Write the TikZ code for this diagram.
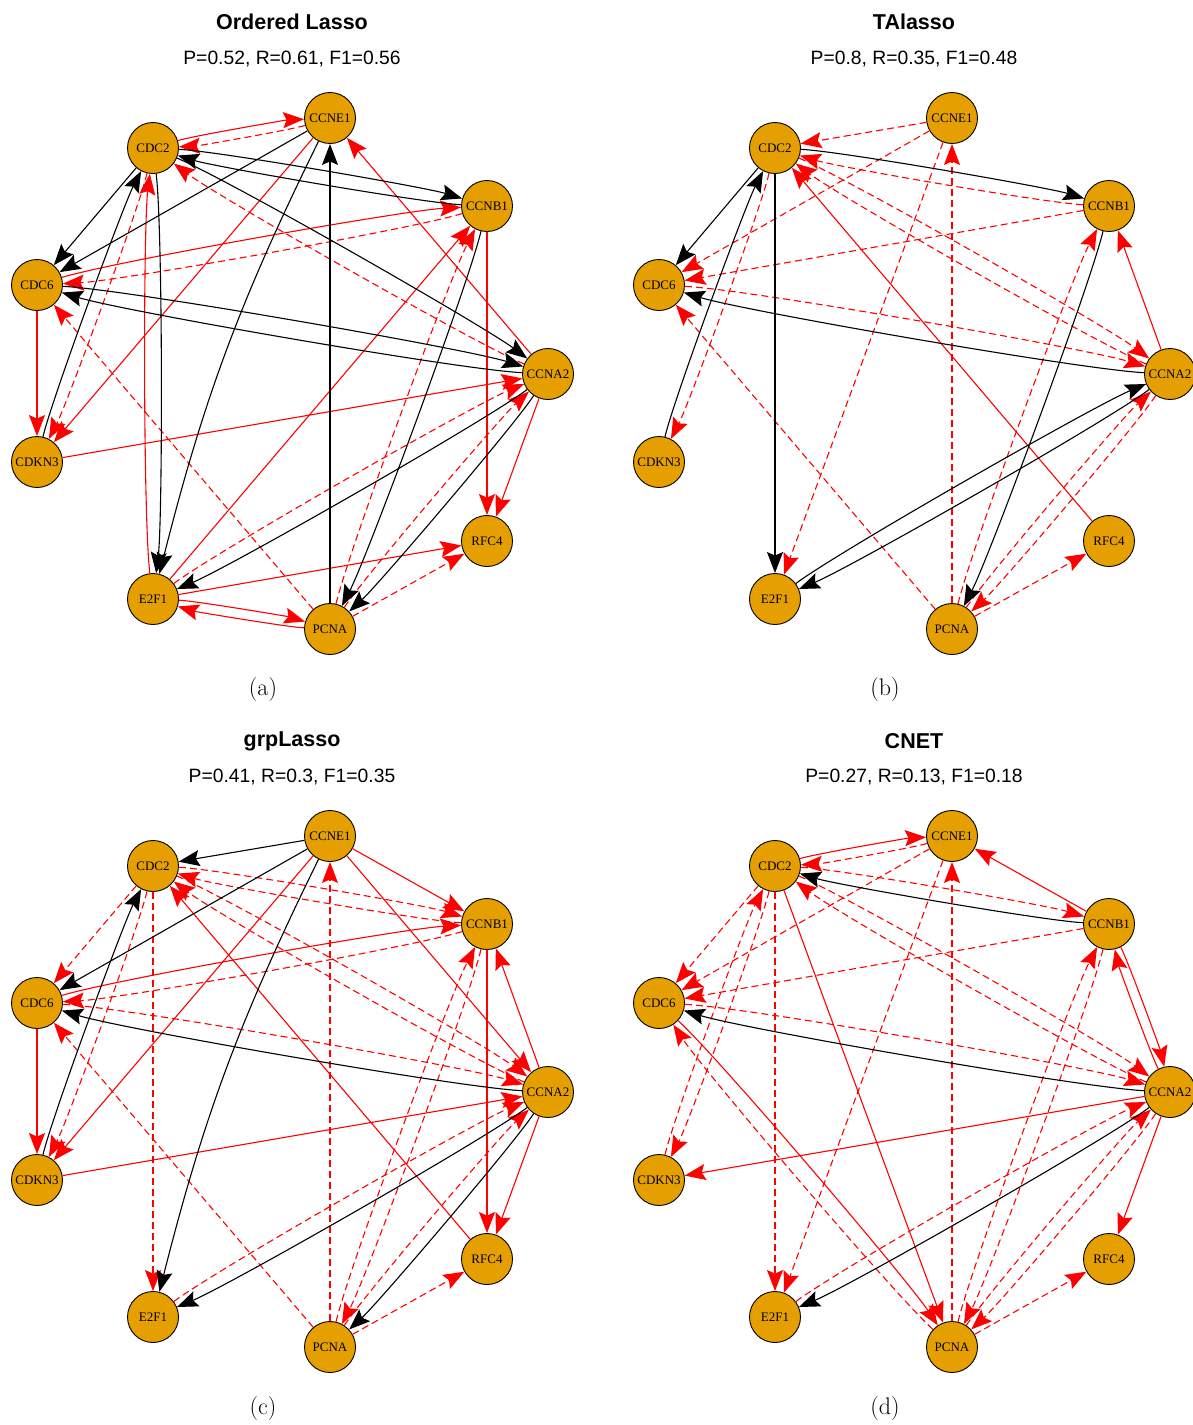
\documentclass[tikz,border=0pt]{standalone}
\usepackage{fontspec}
\newfontfamily\sansf{Liberation Sans}
\newfontfamily\serf{Liberation Serif}
\usetikzlibrary{arrows.meta}
\definecolor{nodeorange}{RGB}{230,159,0}
\definecolor{edgered}{RGB}{255,0,0}
\tikzset{
  gene/.style={circle, draw=black, line width=0.9pt, fill=nodeorange, minimum size=51pt, inner sep=0pt, font=\serf\fontsize{13}{13}\selectfont},
  edgebase/.style={line width=1.1pt, -{Stealth[length=21pt,width=16pt,inset=3.5pt]}},
  tp/.style={edgebase, draw=black},
  fp/.style={edgebase, draw=edgered},
  fn/.style={edgebase, draw=edgered, dash pattern=on 7pt off 4pt},
  pairbend/.style={bend left=7, looseness=0.35},
  ttl/.style={font=\sansf\bfseries\fontsize{21.5}{24}\selectfont},
  subttl/.style={font=\sansf\fontsize{19.3}{22}\selectfont},
  captxt/.style={font=\fontsize{24}{28}\selectfont}
}
\newcommand\ed[3]{\draw[#1] (#2) -- (#3);}
\newcommand\pe[3]{\draw[#1] (#2) to[pairbend] (#3);}
\newcommand\genes[3]{%
  \node[gene] (#3CCNE1) at (330+#1,118+#2) {CCNE1};
  \node[gene] (#3CDC2)  at (153+#1,148+#2) {CDC2};
  \node[gene] (#3CCNB1) at (487+#1,206+#2) {CCNB1};
  \node[gene] (#3CDC6)  at (37+#1,285+#2) {CDC6};
  \node[gene] (#3CCNA2) at (548+#1,374+#2) {CCNA2};
  \node[gene] (#3CDKN3) at (37+#1,462+#2) {CDKN3};
  \node[gene] (#3RFC4)  at (487+#1,541+#2) {RFC4};
  \node[gene] (#3E2F1)  at (153+#1,599+#2) {E2F1};
  \node[gene] (#3PCNA)  at (330+#1,629+#2) {PCNA};
}
\begin{document}
\begin{tikzpicture}[x=1pt,y=-1pt]
\useasboundingbox (0,0) rectangle (1193,1425);

% titles and captions
\node[ttl] (ta) at (292,22) {Ordered Lasso};
\node[subttl] (sa) at (292,59) {P=0.52, R=0.61, F1=0.56};
\node[captxt] (ca) at (263,690) {(a)};
\node[ttl] (tb) at (914,22) {TAlasso};
\node[subttl] (sb) at (914,59) {P=0.8, R=0.35, F1=0.48};
\node[captxt] (cb) at (885,690) {(b)};
\node[ttl] (tc) at (292,741) {grpLasso};
\node[subttl] (sc) at (292,777) {P=0.41, R=0.3, F1=0.35};
\node[captxt] (cc) at (263,1408) {(c)};
\node[ttl] (td) at (914,741) {CNET};
\node[subttl] (sd) at (914,777) {P=0.27, R=0.13, F1=0.18};
\node[captxt] (cd) at (885,1408) {(d)};

\genes{0}{0}{a}
\genes{622}{0}{b}
\genes{0}{718}{c}
\genes{622}{718}{d}

% ---------------- panel a
\pe{fn}{aCCNE1}{aCDC2}
\pe{fn}{aCCNA2}{aCDC2}
\pe{fn}{aCDC2}{aCDKN3}
\pe{fn}{aCCNB1}{aCDC6}
\ed{fn}{aPCNA}{aCDC6}
\pe{fn}{aE2F1}{aCCNA2}
\pe{fn}{aPCNA}{aCCNB1}
\pe{fn}{aPCNA}{aCCNA2}
\ed{fn}{aPCNA}{aRFC4}
\pe{fp}{aCDC2}{aCCNE1}
\ed{fp}{aCCNE1}{aCDKN3}
\ed{fp}{aCCNA2}{aCCNE1}
\pe{fp}{aE2F1}{aCDC2}
\pe{fp}{aCDC6}{aCCNB1}
\ed{fp}{aCDC6}{aCDKN3}
\ed{fp}{aCDKN3}{aCCNA2}
\ed{fp}{aE2F1}{aCCNB1}
\ed{fp}{aE2F1}{aRFC4}
\pe{fp}{aE2F1}{aPCNA}
\pe{fp}{aPCNA}{aE2F1}
\ed{fp}{aCCNB1}{aRFC4}
\ed{fp}{aCCNA2}{aRFC4}
\ed{tp}{aCCNE1}{aCDC6}
\draw[tp] (aCCNE1) to[bend right=6] (aE2F1);
\ed{tp}{aPCNA}{aCCNE1}
\pe{tp}{aCDC2}{aCCNB1}
\pe{tp}{aCCNB1}{aCDC2}
\pe{tp}{aCDC2}{aCCNA2}
\ed{tp}{aCDC2}{aCDC6}
\pe{tp}{aCDKN3}{aCDC2}
\pe{tp}{aCDC2}{aE2F1}
\pe{tp}{aCDC6}{aCCNA2}
\pe{tp}{aCCNA2}{aCDC6}
\pe{tp}{aCCNA2}{aE2F1}
\pe{tp}{aCCNB1}{aPCNA}
\pe{tp}{aCCNA2}{aPCNA}

% ---------------- panel b
\ed{fn}{bCCNE1}{bCDC6}
\ed{fn}{bCCNE1}{bE2F1}
\ed{fn}{bPCNA}{bCCNE1}
\pe{fn}{bCCNB1}{bCDC2}
\pe{fn}{bCDC2}{bCCNA2}
\pe{fn}{bCDC6}{bCCNA2}
\pe{fn}{bCCNA2}{bPCNA}
\ed{fn}{bCCNE1}{bCDC2}
\pe{fn}{bCCNA2}{bCDC2}
\pe{fn}{bCDC2}{bCDKN3}
\ed{fn}{bCCNB1}{bCDC6}
\ed{fn}{bPCNA}{bCDC6}
\pe{fn}{bPCNA}{bCCNB1}
\pe{fn}{bPCNA}{bCCNA2}
\ed{fn}{bPCNA}{bRFC4}
\ed{fp}{bRFC4}{bCDC2}
\ed{fp}{bCCNA2}{bCCNB1}
\ed{tp}{bCDC2}{bCDC6}
\ed{tp}{bCDC2}{bE2F1}
\pe{tp}{bCDC2}{bCCNB1}
\pe{tp}{bCDKN3}{bCDC2}
\pe{tp}{bCCNA2}{bCDC6}
\pe{tp}{bE2F1}{bCCNA2}
\pe{tp}{bCCNA2}{bE2F1}
\pe{tp}{bCCNB1}{bPCNA}

% ---------------- panel c
\ed{fn}{cPCNA}{cCCNE1}
\pe{fn}{cCDC2}{cCCNB1}
\pe{fn}{cCCNB1}{cCDC2}
\pe{fn}{cCDC2}{cCCNA2}
\ed{fn}{cCDC2}{cCDC6}
\ed{fn}{cCDC2}{cE2F1}
\pe{fn}{cCDC6}{cCCNA2}
\pe{fn}{cCCNB1}{cPCNA}
\pe{fn}{cCCNA2}{cCDC2}
\pe{fn}{cCDC2}{cCDKN3}
\pe{fn}{cCCNB1}{cCDC6}
\ed{fn}{cPCNA}{cCDC6}
\pe{fn}{cE2F1}{cCCNA2}
\pe{fn}{cPCNA}{cCCNB1}
\pe{fn}{cPCNA}{cCCNA2}
\ed{fn}{cPCNA}{cRFC4}
\ed{fp}{cCCNE1}{cCDKN3}
\ed{fp}{cCCNE1}{cCCNB1}
\ed{fp}{cCCNE1}{cCCNA2}
\ed{fp}{cRFC4}{cCDC2}
\pe{fp}{cCDC6}{cCCNB1}
\ed{fp}{cCDC6}{cCDKN3}
\ed{fp}{cCDKN3}{cCCNA2}
\ed{fp}{cCCNA2}{cCCNB1}
\ed{fp}{cCCNB1}{cRFC4}
\ed{fp}{cCCNA2}{cRFC4}
\ed{tp}{cCCNE1}{cCDC2}
\ed{tp}{cCCNE1}{cCDC6}
\draw[tp] (cCCNE1) to[bend right=6] (cE2F1);
\pe{tp}{cCDKN3}{cCDC2}
\pe{tp}{cCCNA2}{cCDC6}
\pe{tp}{cCCNA2}{cE2F1}
\pe{tp}{cCCNA2}{cPCNA}

% ---------------- panel d
\ed{fn}{dCCNE1}{dCDC6}
\ed{fn}{dCCNE1}{dE2F1}
\ed{fn}{dPCNA}{dCCNE1}
\pe{fn}{dCDC2}{dCCNB1}
\pe{fn}{dCDC2}{dCCNA2}
\ed{fn}{dCDC2}{dCDC6}
\pe{fn}{dCDKN3}{dCDC2}
\ed{fn}{dCDC2}{dE2F1}
\pe{fn}{dCDC6}{dCCNA2}
\pe{fn}{dCCNB1}{dPCNA}
\pe{fn}{dCCNA2}{dPCNA}
\pe{fn}{dCCNE1}{dCDC2}
\pe{fn}{dCCNA2}{dCDC2}
\pe{fn}{dCDC2}{dCDKN3}
\ed{fn}{dCCNB1}{dCDC6}
\pe{fn}{dPCNA}{dCDC6}
\pe{fn}{dE2F1}{dCCNA2}
\pe{fn}{dPCNA}{dCCNB1}
\pe{fn}{dPCNA}{dCCNA2}
\ed{fn}{dPCNA}{dRFC4}
\pe{fp}{dCDC2}{dCCNE1}
\ed{fp}{dCCNB1}{dCCNE1}
\ed{fp}{dCDC2}{dPCNA}
\pe{fp}{dCDC6}{dPCNA}
\pe{fp}{dCCNB1}{dCCNA2}
\pe{fp}{dCCNA2}{dCCNB1}
\ed{fp}{dCCNA2}{dCDKN3}
\ed{fp}{dCCNA2}{dRFC4}
\pe{tp}{dCCNB1}{dCDC2}
\pe{tp}{dCCNA2}{dCDC6}
\pe{tp}{dCCNA2}{dE2F1}
\end{tikzpicture}
\end{document}
